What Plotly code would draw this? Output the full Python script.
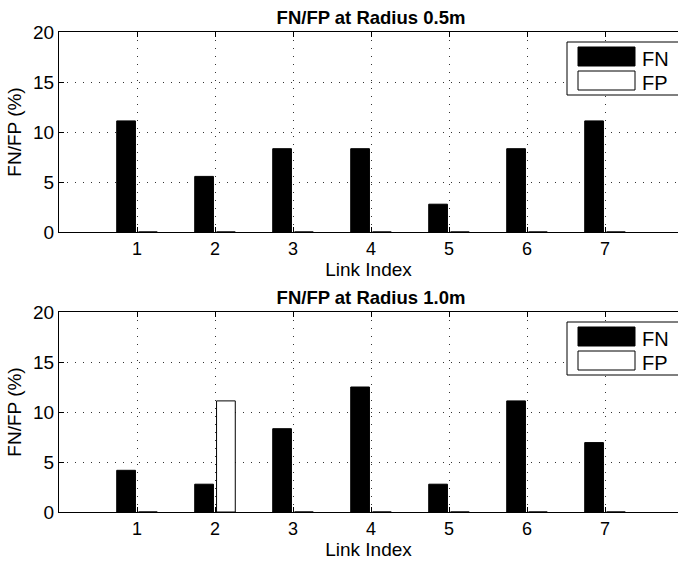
import plotly.graph_objects as go

links = [1, 2, 3, 4, 5, 6, 7]
fn_05 = [11.11, 5.56, 8.33, 8.33, 2.78, 8.33, 11.11]
fp_05 = [0, 0, 0, 0, 0, 0, 0]
fn_10 = [4.17, 2.78, 8.33, 12.5, 2.78, 11.11, 6.94]
fp_10 = [0, 11.11, 0, 0, 0, 0, 0]
titles = ["FN/FP at Radius 0.5m", "FN/FP at Radius 1.0m"]
legend_names = ["FN", "FP"]
y_ticks = [0, 5, 10, 15, 20]

W, H = 678, 561
FONT = "Liberation Sans, Arial, Helvetica, sans-serif"

fig = go.Figure()

panels = [
    (fn_05, fp_05, "x", "y", (232, 32)),
    (fn_10, fp_10, "x2", "y2", (512, 312)),
]

for fn, fp, xa, ya, _ in panels:
    fig.add_trace(go.Bar(x=links, y=fn, xaxis=xa, yaxis=ya, width=0.24, offset=-0.26,
                         marker=dict(color="black", line=dict(color="black", width=1)),
                         showlegend=False, name=legend_names[0]))
    fig.add_trace(go.Bar(x=links, y=fp, xaxis=xa, yaxis=ya, width=0.24, offset=0.02,
                         marker=dict(color="white", line=dict(color="black", width=1)),
                         showlegend=False, name=legend_names[1]))

x_left = 59
unit = 78.0
x_max = (W - x_left) / unit

layout = dict(
    template="none",
    width=W, height=H,
    margin=dict(l=0, r=0, t=0, b=0, pad=0),
    paper_bgcolor="white", plot_bgcolor="white",
    barmode="overlay",
    showlegend=False,
    font=dict(family=FONT, size=17, color="black"),
)

shapes = []
for i, (fn, fp, xa, ya, (ybot, ytop)) in enumerate(panels):
    xname = "xaxis" if i == 0 else "xaxis2"
    yname = "yaxis" if i == 0 else "yaxis2"
    layout[xname] = dict(
        domain=[x_left / W, 1.0], range=[0, x_max], anchor=ya,
        automargin=False,
        tickvals=links, ticktext=[str(v) for v in links],
        ticks="inside", ticklen=5, tickcolor="black",
        showline=True, linecolor="black", linewidth=1, mirror="ticks",
        showgrid=True, gridcolor="#333333", griddash="1px,7px", gridwidth=1,
        zeroline=False,
        title=dict(text="Link Index", standoff=0, font=dict(size=19)),
        tickfont=dict(size=18),
    )
    layout[yname] = dict(
        domain=[(H - ybot) / H, (H - ytop) / H], range=[0, 20], anchor=xa,
        automargin=False,
        tickvals=y_ticks, ticks="inside", ticklen=5, tickcolor="black",
        showline=True, linecolor="black", linewidth=1, mirror=False,
        showgrid=True, gridcolor="#333333", griddash="1px,7px", gridwidth=1,
        zeroline=False,
        title=dict(text="FN/FP (%)", standoff=6, font=dict(size=19)),
        tickfont=dict(size=19),
    )
    # title as label of an invisible box (paper coords)
    cx = x_left + 4 * unit
    shapes.append(dict(type="rect", xref="paper", yref="paper",
                       x0=(cx - 150) / W, x1=(cx + 150) / W,
                       y0=(H - (ytop - 4)) / H, y1=(H - (ytop - 28)) / H,
                       line=dict(width=0), fillcolor="rgba(0,0,0,0)",
                       label=dict(text="<b>" + titles[i] + "</b>", textposition="middle center",
                                  padding=0,
                                  font=dict(size=18.5, family=FONT, color="black"))))
    # custom MATLAB-like legend box
    xd = xa + " domain"
    yd = ya + " domain"
    def px_x(p):
        return (p - x_left) / (W - x_left)
    def px_y(p):
        return (ybot - p) / (ybot - ytop)
    top = ytop + 10
    shapes.append(dict(type="rect", xref=xd, yref=yd,
                       x0=px_x(567), x1=px_x(685), y0=px_y(top + 53), y1=px_y(top),
                       line=dict(color="black", width=1), fillcolor="white", layer="above"))
    swatch_fill = ["black", "white"]
    for k in range(2):
        y_a = top + 5 + 24 * k
        y_b = y_a + 19
        shapes.append(dict(type="rect", xref=xd, yref=yd,
                           x0=px_x(578), x1=px_x(635), y0=px_y(y_b), y1=px_y(y_a),
                           line=dict(color="black", width=1), fillcolor=swatch_fill[k],
                           layer="above"))
        shapes.append(dict(type="rect", xref=xd, yref=yd,
                           x0=px_x(639), x1=px_x(676), y0=px_y(y_b), y1=px_y(y_a),
                           line=dict(width=0), fillcolor="rgba(0,0,0,0)", layer="above",
                           label=dict(text=legend_names[k], textposition="middle left",
                                      padding=0,
                                      font=dict(size=20, family=FONT, color="black"))))

layout["shapes"] = shapes
fig.update_layout(**layout)
fig.write_html("out.html")
